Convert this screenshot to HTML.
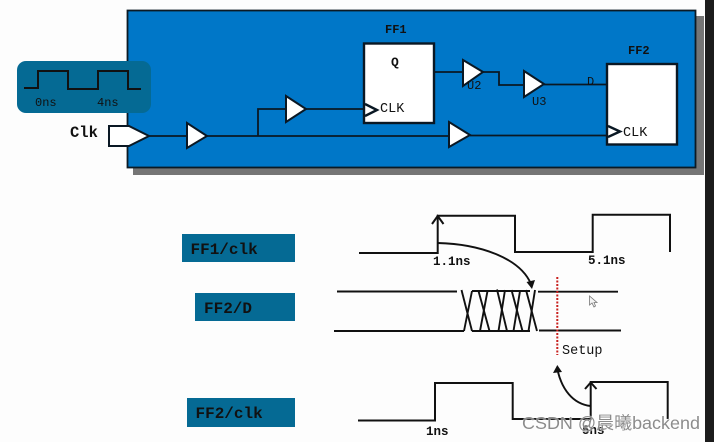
<!DOCTYPE html>
<html>
<head>
<meta charset="utf-8">
<style>
html,body{margin:0;padding:0;background:#fdfdfd;width:714px;height:442px;overflow:hidden}
svg{display:block}
text{font-family:"Liberation Mono",monospace;fill:#111}
</style>
</head>
<body>
<svg width="714" height="442" viewBox="0 0 714 442" xmlns="http://www.w3.org/2000/svg">
<rect width="714" height="442" fill="#fdfdfd"/>
<rect x="705" y="0" width="9" height="442" fill="#1c1c1c"/>

<!-- Main block -->
<rect x="133" y="16" width="571" height="159" fill="#757575"/>
<rect x="127.500" y="10.500" width="568" height="157" fill="#0077c8" stroke="#0c1a24" stroke-width="1.800"/>

<!-- Clock inset -->
<rect x="17" y="61" width="134" height="52" rx="9" fill="#056a94"/>
<polyline points="24,88 38,88 38,71 68,71 68,89 98,89 98,71 128,71 128,89 141,89" fill="none" stroke="#111" stroke-width="2"/>
<text x="35" y="106" font-size="12" fill="#0b2a3a">0ns</text>
<text x="97" y="106" font-size="12" fill="#0b2a3a">4ns</text>

<!-- Wires -->
<g fill="none" stroke="#0a1824" stroke-width="1.800">
<polyline points="149,136 187,136"/>
<polyline points="207,136 449,136"/>
<polyline points="258,136 258,109 286,109"/>
<polyline points="306,109 365,109"/>
<polyline points="434,72 463,72"/>
<polyline points="483,72 499,72 499,85 524,85"/>
<polyline points="544,84.500 607,84.500"/>
<polyline points="470,135.500 608,135.500"/>
</g>

<!-- Port and buffers -->
<g fill="#fff" stroke="#0a1824" stroke-width="2">
<polygon points="109,126 129,126 149,136 129,146 109,146"/>
<polygon points="187,123 207,136 187,148"/>
<polygon points="286,96 306,109 286,122"/>
<polygon points="449,122 470,135 449,147"/>
<polygon points="463,60 483,72 463,86"/>
<polygon points="524,71 544,84 524,97"/>
</g>

<!-- Flip-flops -->
<rect x="364" y="43.500" width="70" height="79.500" fill="#fff" stroke="#0a1824" stroke-width="2.400"/>
<rect x="607" y="64" width="70" height="80.500" fill="#fff" stroke="#0a1824" stroke-width="2.400"/>
<polyline points="365,104 377,110 365,116" fill="none" stroke="#0a1824" stroke-width="2.400"/>
<polyline points="608,126 620,131.500 608,137" fill="none" stroke="#0a1824" stroke-width="2.400"/>

<!-- Block labels -->
<text x="70" y="137" font-size="15.500" font-weight="bold">Clk</text>
<text x="385" y="33" font-size="12" font-weight="bold" fill="#0b2236">FF1</text>
<text x="628" y="54" font-size="12" font-weight="bold" fill="#0b2236">FF2</text>
<text x="391" y="66" font-size="13" font-weight="bold">Q</text>
<text x="380" y="112" font-size="13.500">CLK</text>
<text x="623" y="136" font-size="13.500">CLK</text>
<text x="467" y="89" font-size="12" fill="#0b2236">U2</text>
<text x="532" y="105" font-size="12" fill="#0b2236">U3</text>
<text x="587" y="85" font-size="12" fill="#0b2236">D</text>

<!-- Timing labels -->
<rect x="182" y="234" width="113" height="28" fill="#056a94"/>
<rect x="195" y="293" width="100" height="28" fill="#056a94"/>
<rect x="187" y="398" width="108" height="29" fill="#056a94"/>
<text x="190.500" y="254" font-size="16" font-weight="bold">FF1/clk</text>
<text x="204" y="313" font-size="16" font-weight="bold">FF2/D</text>
<text x="195.500" y="418" font-size="16" font-weight="bold">FF2/clk</text>

<!-- Waveforms -->
<g fill="none" stroke="#111">
<polyline stroke-width="2" points="359,253 437.700,253 437.700,215.700 515,215.700 515,252 592.700,252 592.700,214.700 670,214.700 670,252"/>
<polyline stroke-width="2" points="432,224 437.700,216 443.500,224"/>
<path stroke-width="1.900" d="M437.700,243 C480,244 520,258 531,284"/>
<polyline stroke-width="1.900" points="337,291.500 457,291.500"/>
<polyline stroke-width="1.900" points="334,331 464,331"/>
<polyline stroke-width="1.900" points="538,291.700 618,291.700"/>
<polyline stroke-width="1.900" points="539,330.500 621,330.500"/>
<polyline stroke-width="1.900" points="472,291 530,291"/>
<polyline stroke-width="1.900" points="472,331 530,331"/>
<g stroke-width="1.900">
<line x1="461.500" y1="290" x2="472" y2="331"/>
<line x1="464" y1="331" x2="472" y2="291"/>
<line x1="478.500" y1="291" x2="489.500" y2="331"/>
<line x1="480" y1="331" x2="487.500" y2="291"/>
<line x1="497" y1="289.500" x2="507" y2="331"/>
<line x1="498.500" y1="331" x2="505" y2="290"/>
<line x1="511.500" y1="290" x2="522.500" y2="331"/>
<line x1="513.500" y1="331" x2="520" y2="291"/>
<line x1="526" y1="290" x2="537" y2="331"/>
<line x1="528.500" y1="331" x2="535" y2="290"/>
</g>
<polyline stroke-width="2" points="358,420.500 435,420.500 435,383 512.700,383 512.700,419 590.700,419 590.700,382 667.700,382 667.700,419"/>
<polyline stroke-width="2" points="585,389 590.700,382.500 596.500,389"/>
<path stroke-width="1.900" d="M590.700,406 C572,404 562,388 558,372"/>
</g>
<polygon points="526.500,282 535,280 532,289" fill="#111"/>
<polygon points="557.300,365 553,373 562,372" fill="#111"/>
<line x1="557.300" y1="277" x2="557.300" y2="355" stroke="#c8201e" stroke-width="2" stroke-dasharray="2 1.500"/>

<text x="562" y="354" font-size="13.500" fill="#555">Setup</text>
<text x="433" y="265" font-size="12.500" font-weight="bold">1.1ns</text>
<text x="588" y="264" font-size="12.500" font-weight="bold">5.1ns</text>
<text x="426" y="435" font-size="12.500" font-weight="bold">1ns</text>
<text x="582" y="434" font-size="12.500" font-weight="bold">5ns</text>

<!-- Cursor -->
<polygon points="589.500,296 589.500,305 592,303 594,307 595.500,306 594,302.500 597,302.500" fill="#f4f4f4" stroke="#777" stroke-width="0.800"/>

<!-- Watermark -->
<text x="522" y="429" font-size="17.500" style="font-family:'Liberation Sans','Noto Sans CJK SC',sans-serif;fill:#8c8c8c;paint-order:stroke;stroke:#ffffff;stroke-opacity:.45;stroke-width:1.500px" textLength="178" lengthAdjust="spacingAndGlyphs">CSDN @晨曦backend</text>
</svg>
</body>
</html>
